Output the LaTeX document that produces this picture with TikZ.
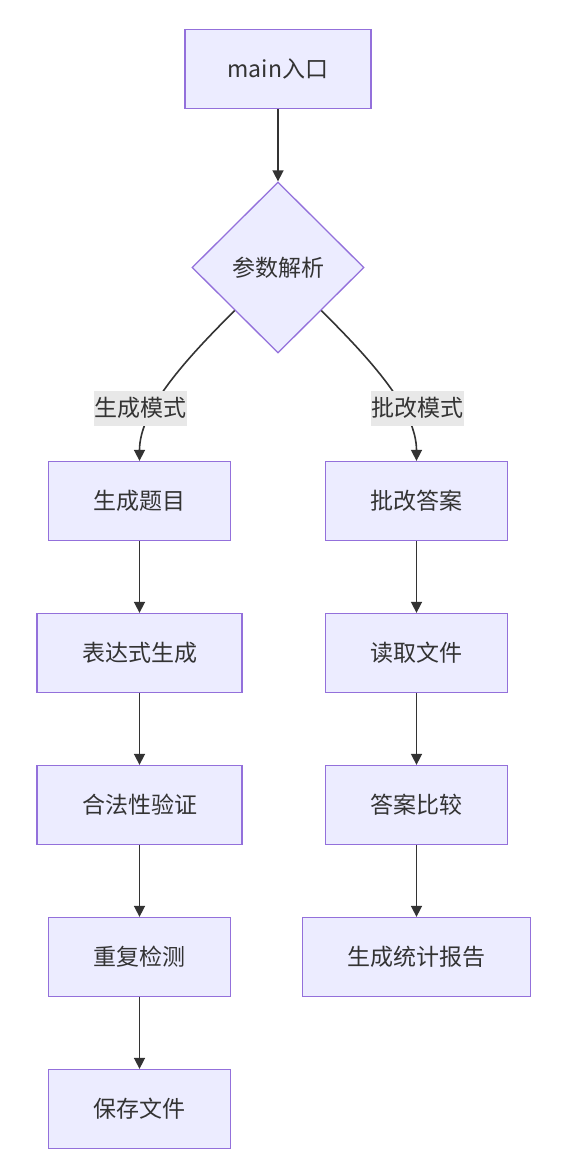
\documentclass[tikz,border=0pt]{standalone}
\usepackage{fontspec}
\setmainfont{Noto Sans CJK SC}
\usetikzlibrary{shapes.geometric,arrows.meta}
\definecolor{nodefill}{HTML}{ECECFF}
\definecolor{nodeline}{HTML}{9370DB}
\definecolor{txt}{HTML}{333333}
\definecolor{edge}{HTML}{333333}
\definecolor{lblbg}{HTML}{E8E8E8}
\tikzset{
  box/.style={draw=nodeline, fill=nodefill, line width=1.3pt, text=txt,
    minimum height=79pt, inner sep=0pt, font=\fontsize{23}{27}\selectfont},
  decide/.style={diamond, draw=nodeline, fill=nodefill, line width=1.3pt, text=txt,
    minimum width=172pt, minimum height=171pt, inner sep=0pt, aspect=1,
    font=\fontsize{23}{27}\selectfont},
  elabel/.style={fill=lblbg, text=txt, inner sep=0pt, minimum width=93pt,
    minimum height=35pt, font=\fontsize{23}{27}\selectfont},
  flow/.style={draw=edge, line width=1.6pt, -{Triangle[width=11pt,length=11pt]}},
}
\begin{document}
\begin{tikzpicture}[x=1pt,y=-1pt]
\useasboundingbox (0,0) rectangle (565,1167);
\node[box, minimum width=186pt] (a) at (278,69) {main入口};
\node[decide] (d) at (278,267.5) {参数解析};
\node[box, minimum width=182pt] (g1) at (139.5,501) {生成题目};
\node[box, minimum width=205pt] (g2) at (139.5,653) {表达式生成};
\node[box, minimum width=205pt] (g3) at (139.5,805) {合法性验证};
\node[box, minimum width=182pt] (g4) at (139.5,957) {重复检测};
\node[box, minimum width=182pt] (g5) at (139.5,1109) {保存文件};
\node[box, minimum width=182pt] (p1) at (416.5,501) {批改答案};
\node[box, minimum width=182pt] (p2) at (416.5,653) {读取文件};
\node[box, minimum width=182pt] (p3) at (416.5,805) {答案比较};
\node[box, minimum width=228pt] (p4) at (416.5,957) {生成统计报告};

\draw[flow] (a.south) -- (d.north);
\draw[flow] (d.south west) .. controls (185,360) and (139.5,410) .. (g1.north);
\draw[flow] (d.south east) .. controls (371,360) and (416.5,410) .. (p1.north);
\node[elabel] (l1) at (140,408) {生成模式};
\node[elabel] (l2) at (417,408) {批改模式};

\draw[flow] (g1) -- (g2);
\draw[flow] (g2) -- (g3);
\draw[flow] (g3) -- (g4);
\draw[flow] (g4) -- (g5);
\draw[flow] (p1) -- (p2);
\draw[flow] (p2) -- (p3);
\draw[flow] (p3) -- (p4);
\end{tikzpicture}
\end{document}
